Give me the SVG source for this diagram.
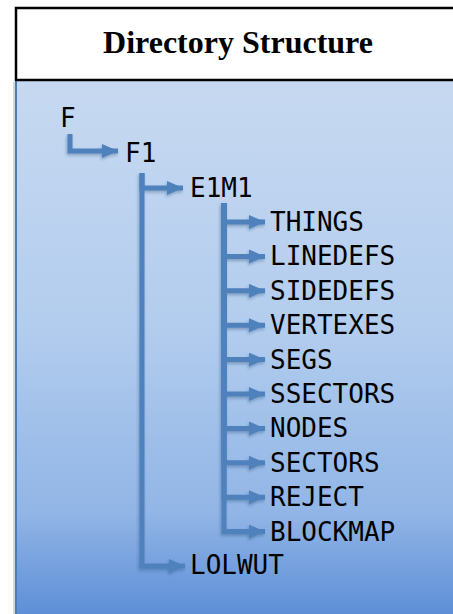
<svg xmlns="http://www.w3.org/2000/svg" width="453" height="614" viewBox="0 0 453 614">
  <defs>
    <linearGradient id="bodyFill" x1="0" y1="0" x2="0" y2="1">
      <stop offset="0" stop-color="#c7d9f1"/>
      <stop offset="0.45" stop-color="#b3cdee"/>
      <stop offset="0.8" stop-color="#91b5e6"/>
      <stop offset="1" stop-color="#5a8cd6"/>
    </linearGradient>
    <filter id="shadow" x="-20%" y="-20%" width="140%" height="140%">
      <feDropShadow dx="-1" dy="2" stdDeviation="1.5" flood-color="#1f3f6a" flood-opacity="0.35"/>
    </filter>
    <marker id="head" markerUnits="userSpaceOnUse" markerWidth="17" markerHeight="15" refX="16" refY="7" orient="auto">
      <path d="M0 0 L16 7 L0 14 Z" fill="#4f81bd"/>
    </marker>
    <style>
      .title { font-family: "Liberation Serif", "Times New Roman", serif; font-weight: bold; font-size: 32px; fill: #000; }
      .label { font-family: "DejaVu Sans Mono", "Liberation Mono", monospace; font-size: 26px; fill: #000; }
      .conn { fill: none; stroke: #4f81bd; stroke-width: 5; stroke-linejoin: miter; marker-end: url(#head); }
    </style>
  </defs>

  <!-- panel: white header band and gradient body -->
  <g id="panel">
    <rect x="13" y="82" width="4" height="540" fill="#d4d8de"/>
    <rect x="16" y="81" width="450" height="540" fill="url(#bodyFill)"/>
    <line x1="16" y1="81" x2="16" y2="614" stroke="#4a7ebb" stroke-width="2"/>
    <rect x="16" y="8" width="450" height="72" fill="#ffffff" stroke="#000" stroke-width="2.5"/>
    <text class="title" x="238" y="53" text-anchor="middle">Directory Structure</text>
  </g>

  <!-- tree connectors -->
  <g id="connectors" filter="url(#shadow)">
    <path class="conn" d="M70 134 V151 H118"/>
    <path class="conn" d="M142 173 V188 H183"/>
    <path class="conn" d="M142 173 V566 H185"/>
    <path class="conn" d="M224 203 V222 H265"/>
    <path class="conn" d="M224 203 V256.4 H265"/>
    <path class="conn" d="M224 203 V290.8 H265"/>
    <path class="conn" d="M224 203 V325.2 H265"/>
    <path class="conn" d="M224 203 V359.6 H265"/>
    <path class="conn" d="M224 203 V394 H265"/>
    <path class="conn" d="M224 203 V428.4 H265"/>
    <path class="conn" d="M224 203 V462.8 H265"/>
    <path class="conn" d="M224 203 V497.2 H265"/>
    <path class="conn" d="M224 203 V531.6 H265"/>
  </g>

  <!-- tree nodes -->
  <g id="node-F"><text class="label" x="60" y="127">F</text></g>
  <g id="node-F1"><text class="label" x="125" y="162">F1</text></g>
  <g id="node-E1M1"><text class="label" x="190" y="197">E1M1</text></g>
  <g id="node-THINGS"><text class="label" x="270" y="231">THINGS</text></g>
  <g id="node-LINEDEFS"><text class="label" x="270" y="265.4">LINEDEFS</text></g>
  <g id="node-SIDEDEFS"><text class="label" x="270" y="299.8">SIDEDEFS</text></g>
  <g id="node-VERTEXES"><text class="label" x="270" y="334.2">VERTEXES</text></g>
  <g id="node-SEGS"><text class="label" x="270" y="368.6">SEGS</text></g>
  <g id="node-SSECTORS"><text class="label" x="270" y="403">SSECTORS</text></g>
  <g id="node-NODES"><text class="label" x="270" y="437.4">NODES</text></g>
  <g id="node-SECTORS"><text class="label" x="270" y="471.8">SECTORS</text></g>
  <g id="node-REJECT"><text class="label" x="270" y="506.2">REJECT</text></g>
  <g id="node-BLOCKMAP"><text class="label" x="270" y="540.6">BLOCKMAP</text></g>
  <g id="node-LOLWUT"><text class="label" x="190" y="574">LOLWUT</text></g>
</svg>
